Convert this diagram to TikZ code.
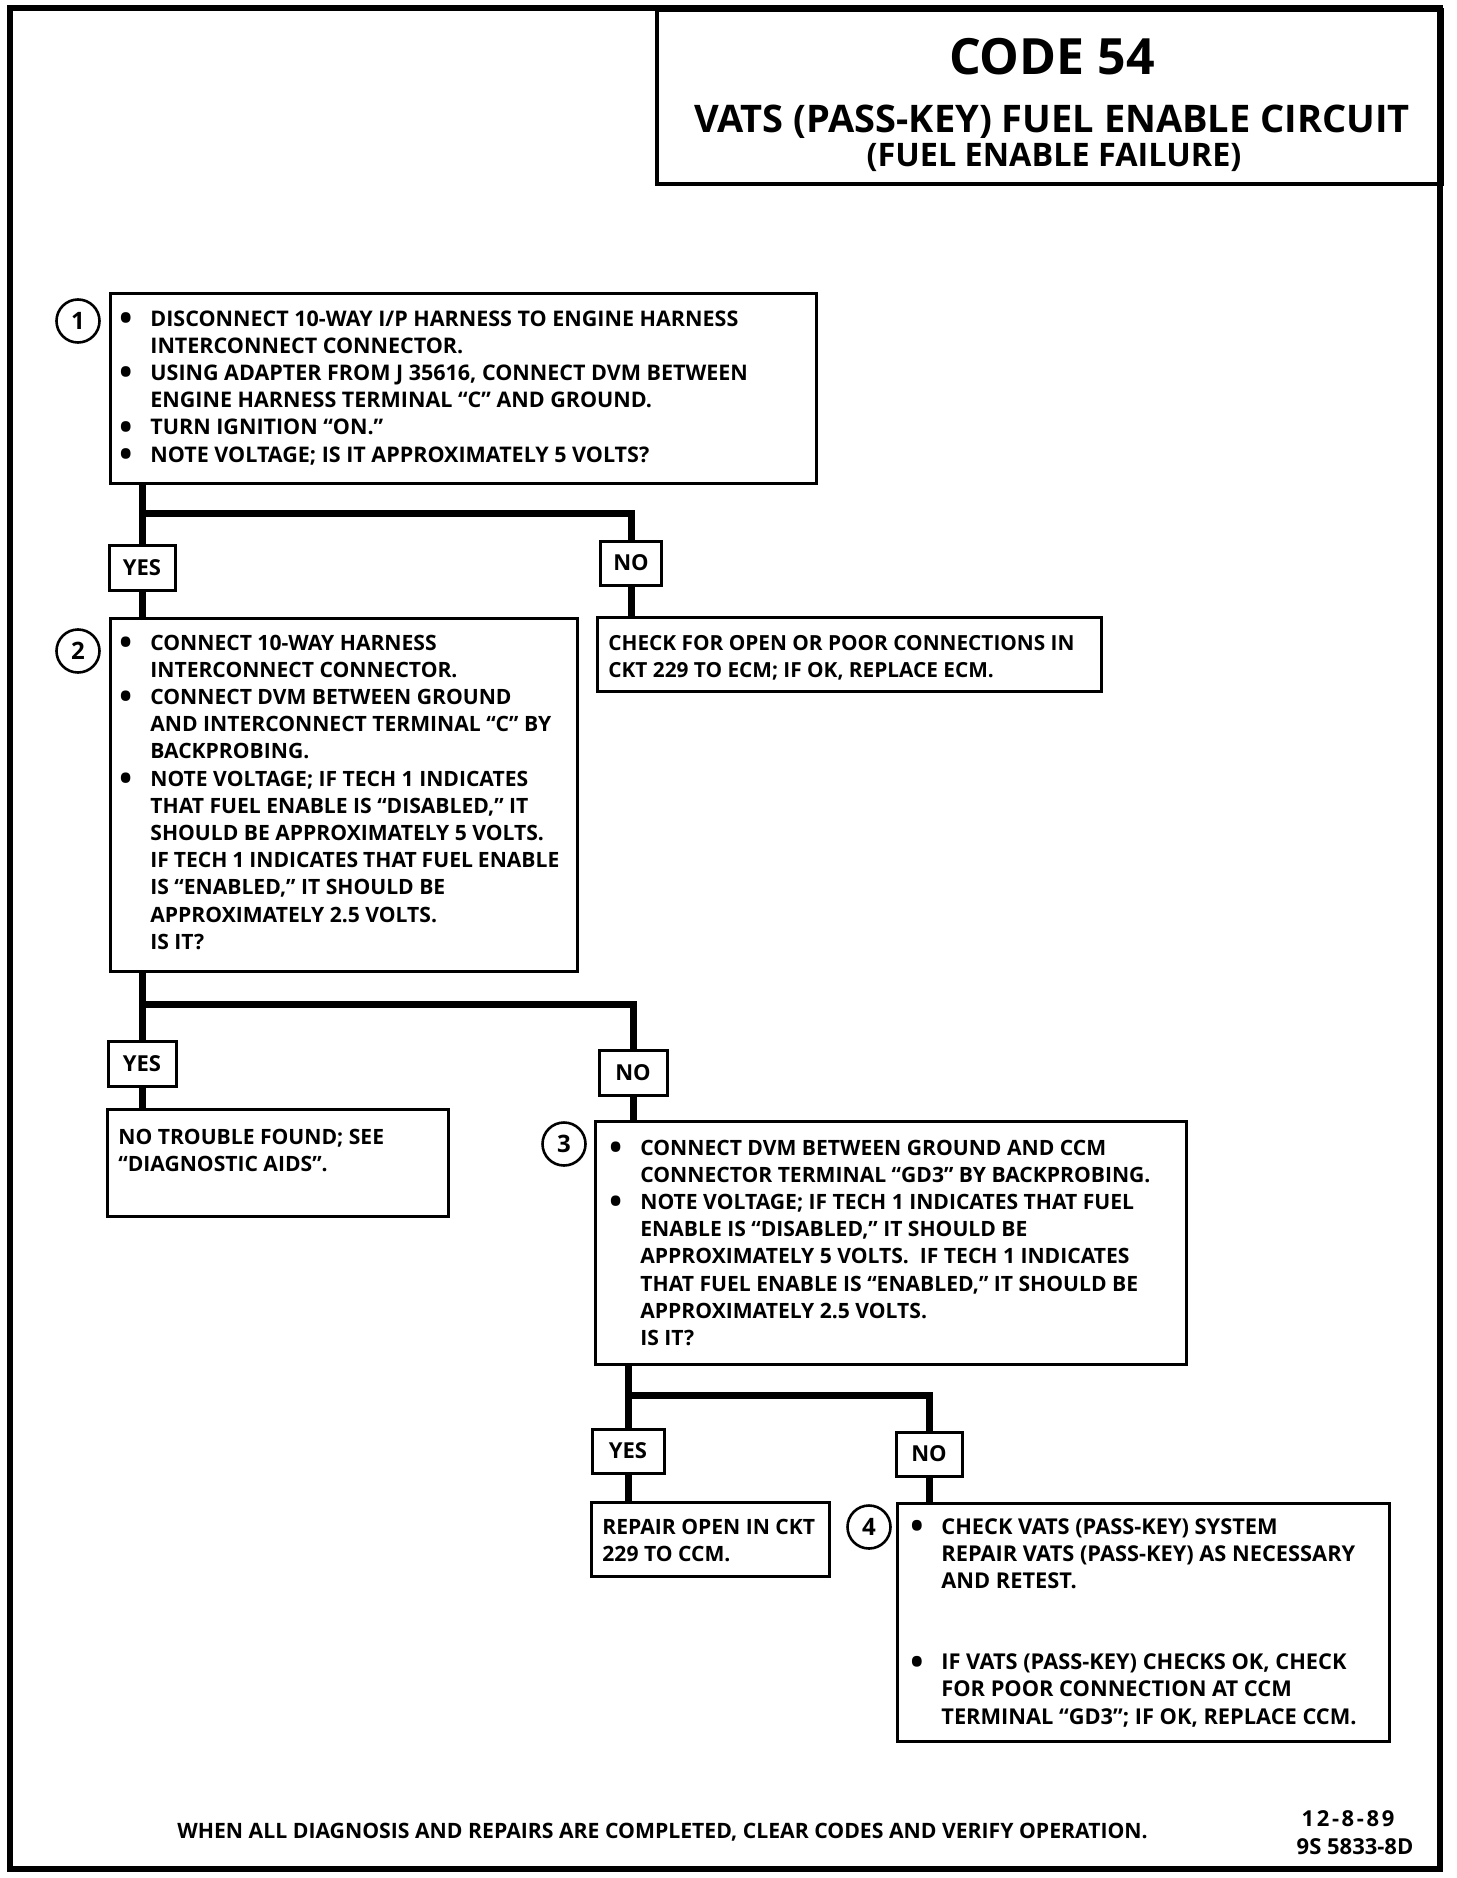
\documentclass[tikz,border=0pt]{standalone}
\usepackage{fontspec}
\setmainfont{Open Sans}
\newlength\bi
\setlength\bi{15.5pt}
\newcommand\bul[1]{\par\noindent\hangindent=\bi\hangafter=1\makebox[\bi][l]{\raisebox{-2.2pt}{\scalebox{1.6}{•}}}#1}
\newcommand\bodyfont{\fontsize{10.55}{13.6}\selectfont\bfseries}
\newcommand\txt[2]{\parbox[t]{#1}{\bodyfont\parindent=0pt #2}}
\newcommand\txts[3]{\parbox[t]{#2}{\fontsize{#1}{13.6}\selectfont\bfseries\parindent=0pt #3}}
\tikzset{
  box/.style={draw, line width=1.5pt, anchor=north west, inner sep=0pt},
  yn/.style={draw, line width=1.5pt, inner sep=0pt, font=\fontsize{11}{13}\selectfont\bfseries},
  num/.style={draw, circle, line width=1.3pt, minimum size=21.5pt, inner sep=0pt, font=\fontsize{12}{14}\selectfont\bfseries},
  conn/.style={line width=3.5pt},
  tx/.style={anchor=base west, inner sep=0pt},
}
\begin{document}
\begin{tikzpicture}[x=0.5pt, y=-0.5pt]
\useasboundingbox (0,0) rectangle (1456,1878);
% frame
\draw[line width=2.75pt] (10,8) rectangle (1440,1869);
\node[draw, line width=2pt, anchor=north west, minimum width=392.5pt, minimum height=87pt, inner sep=0pt] (title) at (655,8) {};
\node[anchor=base, inner sep=0pt, font=\fontsize{25}{28}\selectfont\bfseries] (code) at (1052,75) {CODE 54};
\node[anchor=base, inner sep=0pt, font=\fontsize{19}{22}\selectfont\bfseries] (sub1) at (1052,133) {VATS (PASS-KEY) FUEL ENABLE CIRCUIT};
\node[anchor=base, inner sep=0pt, font=\fontsize{16.2}{19}\selectfont\bfseries] (sub2) at (1054,167) {(FUEL ENABLE FAILURE)};

% boxes
\node[box, minimum width=353pt, minimum height=95pt] (b1) at (109,292) {};
\node[box, minimum width=233.5pt, minimum height=176.5pt] (b2) at (109,617) {};
\node[box, minimum width=252pt, minimum height=37pt] (chk) at (596,616) {};
\node[box, minimum width=170.5pt, minimum height=53.5pt] (ntf) at (106,1108) {};
\node[box, minimum width=295.5pt, minimum height=121.5pt] (b3) at (594,1120) {};
\node[box, minimum width=119pt, minimum height=37pt] (rep) at (590,1501) {};
\node[box, minimum width=246pt, minimum height=119pt] (b4) at (896,1502) {};

% step numbers
\node[num] (c1) at (78,321) {1};
\node[num] (c2) at (78,651) {2};
\node[num] (c3) at (564,1144) {3};
\node[num] (c4) at (869,1527) {4};

% yes / no
\node[yn, minimum width=33pt, minimum height=22.5pt] (y1) at (142,568) {YES};
\node[yn, minimum width=30.5pt, minimum height=22pt] (n1) at (631,563) {NO};
\node[yn, minimum width=34pt, minimum height=22.5pt] (y2) at (142,1064) {YES};
\node[yn, minimum width=34pt, minimum height=22.5pt] (n2) at (633,1073) {NO};
\node[yn, minimum width=36pt, minimum height=22pt] (y3) at (628,1451) {YES};
\node[yn, minimum width=33pt, minimum height=22pt] (n3) at (929,1454) {NO};

% junctions
\coordinate (j1) at (142,513);
\coordinate (j2) at (142,1004);
\coordinate (j3) at (628,1395);

% connectors
\draw[conn] (y1.north |- b1.south) -- (y1.north);
\draw[conn] (j1) -| (n1.north);
\draw[conn] (y1.south) -- (y1.south |- b2.north);
\draw[conn] (n1.south) -- (n1.south |- chk.north);
\draw[conn] (y2.north |- b2.south) -- (y2.north);
\draw[conn] (j2) -| (n2.north);
\draw[conn] (y2.south) -- (y2.south |- ntf.north);
\draw[conn] (n2.south) -- (n2.south |- b3.north);
\draw[conn] (y3.north |- b3.south) -- (y3.north);
\draw[conn] (j3) -| (n3.north);
\draw[conn] (y3.south) -- (y3.south |- rep.north);
\draw[conn] (n3.south) -- (n3.south |- b4.north);

% texts
\node[tx] (t1) at (119,326) {\txts{10.75}{330pt}{%
\bul{DISCONNECT 10-WAY I/P HARNESS TO ENGINE HARNESS\\INTERCONNECT CONNECTOR.}
\bul{USING ADAPTER FROM J 35616, CONNECT DVM BETWEEN\\ENGINE HARNESS TERMINAL “C” AND GROUND.}
\bul{TURN IGNITION “ON.”}
\bul{NOTE VOLTAGE; IS IT APPROXIMATELY 5 VOLTS?}}};

\node[tx] (t2) at (119,650) {\txt{220pt}{%
\bul{CONNECT 10-WAY HARNESS\\INTERCONNECT CONNECTOR.}
\bul{CONNECT DVM BETWEEN GROUND\\AND INTERCONNECT TERMINAL “C” BY\\BACKPROBING.}
\bul{NOTE VOLTAGE; IF TECH 1 INDICATES\\THAT FUEL ENABLE IS “DISABLED,” IT\\SHOULD BE APPROXIMATELY 5 VOLTS.\\IF TECH 1 INDICATES THAT FUEL ENABLE\\IS “ENABLED,” IT SHOULD BE\\APPROXIMATELY 2.5 VOLTS.\\IS IT?}}};

\node[tx] (t3) at (608,650) {\txts{10.4}{240pt}{CHECK FOR OPEN OR POOR CONNECTIONS IN\\CKT 229 TO ECM; IF OK, REPLACE ECM.}};

\node[tx] (t4) at (118,1144) {\txt{160pt}{NO TROUBLE FOUND; SEE\\“DIAGNOSTIC AIDS”.}};

\node[tx] (t5) at (609,1155) {\txt{280pt}{%
\bul{CONNECT DVM BETWEEN GROUND AND CCM\\CONNECTOR TERMINAL “GD3” BY BACKPROBING.}
\bul{NOTE VOLTAGE; IF TECH 1 INDICATES THAT FUEL\\ENABLE IS “DISABLED,” IT SHOULD BE\\APPROXIMATELY 5 VOLTS.\ \ IF TECH 1 INDICATES\\THAT FUEL ENABLE IS “ENABLED,” IT SHOULD BE\\APPROXIMATELY 2.5 VOLTS.\\IS IT?}}};

\node[tx] (t6) at (602,1534) {\txt{110pt}{REPAIR OPEN IN CKT\\229 TO CCM.}};

\node[tx] (t7) at (910,1534) {\txts{10.9}{232pt}{%
\bul{CHECK VATS (PASS-KEY) SYSTEM\\REPAIR VATS (PASS-KEY) AS NECESSARY\\AND RETEST.}
\par\vspace{27pt}
\bul{IF VATS (PASS-KEY) CHECKS OK, CHECK\\FOR POOR CONNECTION AT CCM\\TERMINAL “GD3”; IF OK, REPLACE CCM.}}};

% footer
\node[anchor=base west, inner sep=0pt, font=\fontsize{10.6}{12}\selectfont\bfseries] (foot) at (177,1838) {WHEN ALL DIAGNOSIS AND REPAIRS ARE COMPLETED, CLEAR CODES AND VERIFY OPERATION.};
\node[anchor=base, inner sep=0pt, font=\fontsize{11}{13}\selectfont\bfseries\addfontfeature{LetterSpace=12}] (date) at (1348,1826) {12-8-89};
\node[anchor=base, inner sep=0pt, font=\fontsize{11}{13}\selectfont\bfseries] (ref) at (1355,1854) {9S 5833-8D};
\end{tikzpicture}
\end{document}
